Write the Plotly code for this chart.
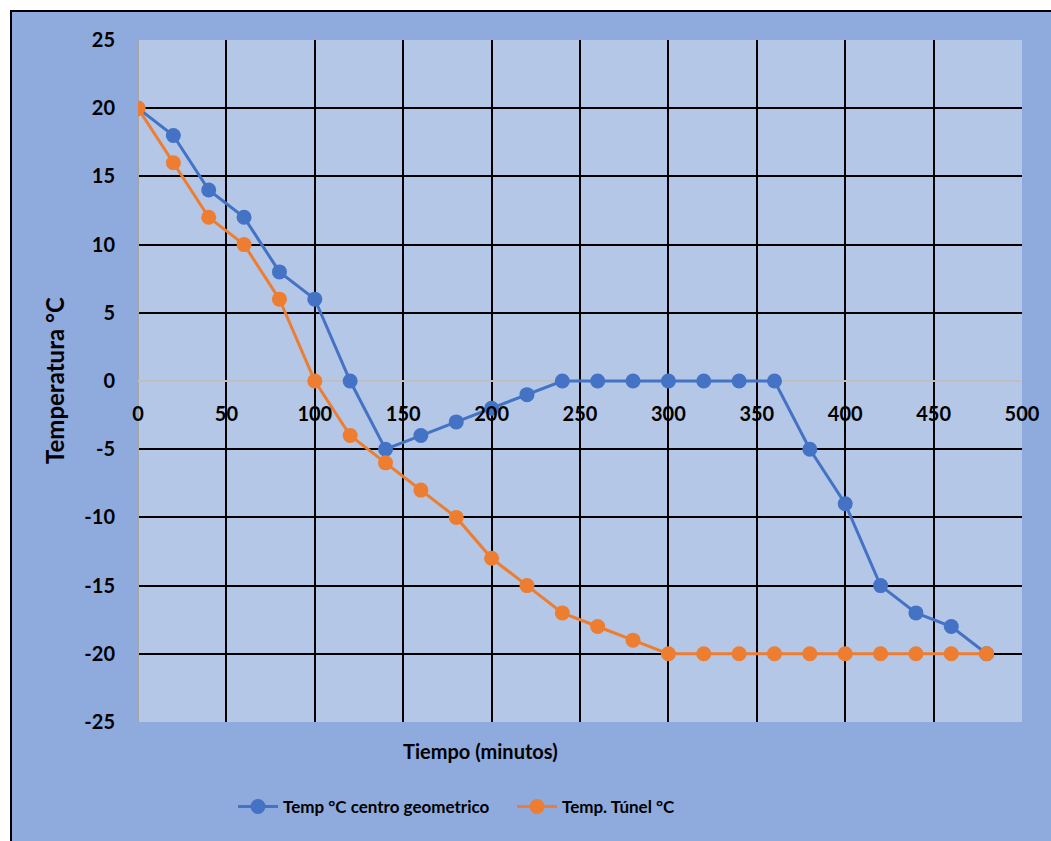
import plotly.graph_objects as go

tiempo = [0, 20, 40, 60, 80, 100, 120, 140, 160, 180, 200, 220, 240, 260, 280, 300,
          320, 340, 360, 380, 400, 420, 440, 460, 480]
temp_centro = [20, 18, 14, 12, 8, 6, 0, -5, -4, -3, -2, -1, 0, 0, 0, 0,
               0, 0, 0, -5, -9, -15, -17, -18, -20]
temp_tunel = [20, 16, 12, 10, 6, 0, -4, -6, -8, -10, -13, -15, -17, -18, -19, -20,
              -20, -20, -20, -20, -20, -20, -20, -20, -20]
x_ticks = [0, 50, 100, 150, 200, 250, 300, 350, 400, 450, 500]
y_ticks = [25, 20, 15, 10, 5, 0, -5, -10, -15, -20, -25]

W, H = 1051, 841
L, R, T, B = 138, 29, 40, 119
pw, ph = W - L - R, H - T - B

def px(x):
    return (x - L) / pw

def py(y):
    return (H - B - y) / ph

FONT = "Lato"
fig = go.Figure()
fig.add_trace(go.Scatter(x=tiempo, y=temp_centro, mode="lines+markers",
                         name="Temp °C centro geometrico",
                         line=dict(color="#4472C4", width=3),
                         marker=dict(color="#4472C4", size=15)))
fig.add_trace(go.Scatter(x=tiempo, y=temp_tunel, mode="lines+markers",
                         name="Temp. Túnel °C",
                         line=dict(color="#ED7D31", width=3),
                         marker=dict(color="#ED7D31", size=15)))

fig.update_layout(
    width=W, height=H,
    margin=dict(l=L, r=R, t=T, b=B, pad=0),
    paper_bgcolor="#8FAADC",
    plot_bgcolor="#B4C7E7",
    font=dict(family=FONT, size=17, color="black"),
    showlegend=True,
    legend=dict(orientation="h", x=px(233), y=py(807), xanchor="left", yanchor="middle",
                bgcolor="rgba(0,0,0,0)", font=dict(family=FONT, size=17, color="black", weight="bold"),
                itemwidth=40, traceorder="normal", entrywidth=224, entrywidthmode="pixels"),
    xaxis=dict(range=[0, 500], tickvals=x_ticks, ticktext=[str(v) for v in x_ticks],
               anchor="free", position=0.5, showgrid=True, gridcolor="black", gridwidth=2,
               zeroline=True, zerolinecolor="#A6A6A6", zerolinewidth=2,
               showline=False, ticks="outside", ticklen=15, tickcolor="rgba(0,0,0,0)",
               tickfont=dict(family=FONT, size=20, color="black", weight="bold")),
    yaxis=dict(range=[-25, 25], tickvals=y_ticks, ticktext=[str(v) for v in y_ticks],
               showgrid=True, gridcolor="black", gridwidth=2,
               zeroline=True, zerolinecolor="#BFBFBF", zerolinewidth=1.5,
               showline=False, ticks="outside", ticklen=18, tickcolor="rgba(0,0,0,0)",
               tickfont=dict(family=FONT, size=20, color="black", weight="bold")),
    shapes=[
        dict(type="rect", xref="paper", yref="paper", x0=px(0), x1=px(W), y0=py(0), y1=py(10),
             fillcolor="white", line=dict(width=0), layer="above"),
        dict(type="rect", xref="paper", yref="paper", x0=px(0), x1=px(10), y0=py(H), y1=py(0),
             fillcolor="white", line=dict(width=0), layer="above"),
        dict(type="line", xref="paper", yref="paper", x0=px(10), x1=px(W), y0=py(11), y1=py(11),
             line=dict(color="black", width=2), layer="above"),
        dict(type="line", xref="paper", yref="paper", x0=px(11), x1=px(11), y0=py(H), y1=py(10),
             line=dict(color="black", width=2), layer="above"),
    ],
    annotations=[
        dict(text="Tiempo (minutos)", xref="paper", yref="paper", x=px(480), y=py(751),
             showarrow=False, xanchor="center", yanchor="middle",
             font=dict(family=FONT, size=20, color="black", weight="bold")),
        dict(text="Temperatura °C", xref="paper", yref="paper", x=px(54), y=py(381),
             showarrow=False, xanchor="center", yanchor="middle", textangle=-90,
             font=dict(family=FONT, size=24, color="black", weight="bold")),
    ],
)

fig.write_html("out.html")
